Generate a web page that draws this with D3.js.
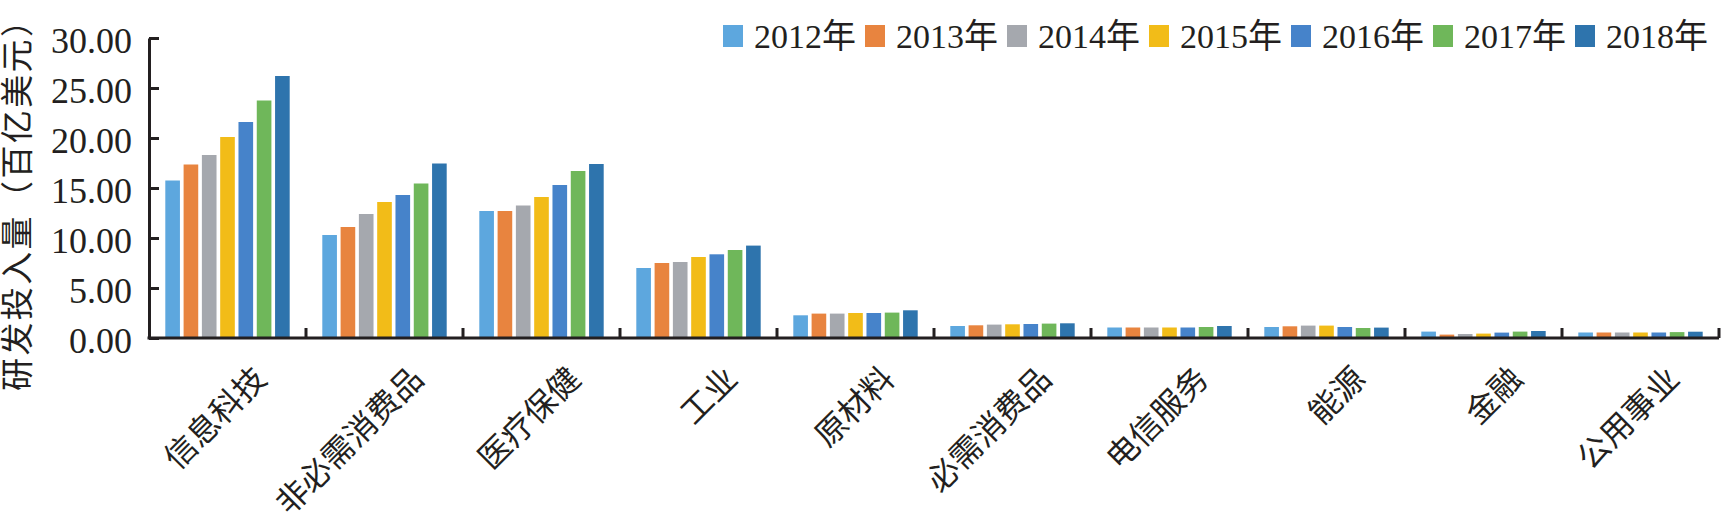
<!DOCTYPE html>
<html>
<head>
<meta charset="utf-8">
<script src="https://cdn.jsdelivr.net/npm/d3@7/dist/d3.min.js"></script>
<style>
  html, body { margin: 0; padding: 0; background: #fff; }
  svg { display: block; }
  text { font-family: "Liberation Serif", "Noto Sans CJK SC", serif; fill: #231f20; }
</style>
</head>
<body>
<svg id="chart" width="1721" height="527"></svg>
<script>
const categories = ["信息科技", "非必需消费品", "医疗保健", "工业", "原材料", "必需消费品", "电信服务", "能源", "金融", "公用事业"];
const years = ["2012年", "2013年", "2014年", "2015年", "2016年", "2017年", "2018年"];
const y2012 = [15.75, 10.3, 12.7, 7.0, 2.27, 1.2, 1.05, 1.1, 0.64, 0.55];
const y2013 = [17.35, 11.1, 12.7, 7.5, 2.44, 1.27, 1.05, 1.17, 0.34, 0.55];
const y2014 = [18.3, 12.4, 13.25, 7.6, 2.44, 1.34, 1.05, 1.24, 0.4, 0.55];
const y2015 = [20.1, 13.6, 14.1, 8.1, 2.5, 1.37, 1.05, 1.24, 0.44, 0.55];
const y2016 = [21.6, 14.3, 15.3, 8.37, 2.5, 1.4, 1.05, 1.1, 0.54, 0.55];
const y2017 = [23.75, 15.45, 16.7, 8.8, 2.54, 1.44, 1.1, 1.0, 0.64, 0.59];
const y2018 = [26.2, 17.45, 17.4, 9.24, 2.77, 1.47, 1.2, 1.04, 0.7, 0.63];
const yTicks = [0, 5, 10, 15, 20, 25, 30];
const yTitle = "研发投入量（百亿美元）";

const series = [y2012, y2013, y2014, y2015, y2016, y2017, y2018];
const colors = ["#5da7de", "#e8843f", "#a5a8ae", "#f2bc18", "#4683ca", "#6fb75a", "#2e74ad"];

const svg = d3.select("#chart");
const mLeft = 149, mRight = 1719, mTop = 38, mBottom = 338;

const x0 = d3.scaleBand().domain(categories).range([mLeft, mRight]).padding(0);
const x1 = d3.scaleBand().domain(years).range([16.3, x0.bandwidth() - 16.3]).paddingInner(0.2).paddingOuter(0);
const y = d3.scaleLinear().domain([0, 30]).range([mBottom, mTop]);
const color = d3.scaleOrdinal().domain(years).range(colors);

// bars
const groups = svg.append("g").selectAll("g")
  .data(categories)
  .join("g")
  .attr("transform", d => `translate(${x0(d)},0)`);

groups.selectAll("rect")
  .data((c, ci) => years.map((yr, si) => ({ yr, v: series[si][ci] })))
  .join("rect")
  .attr("x", d => x1(d.yr))
  .attr("width", x1.bandwidth())
  .attr("y", d => y(d.v))
  .attr("height", d => y(0) - y(d.v))
  .attr("fill", d => color(d.yr));

// y axis
const yAxis = svg.append("g")
  .attr("transform", `translate(${mLeft},0)`)
  .call(d3.axisLeft(y).tickValues(yTicks).tickSizeInner(-10).tickSizeOuter(0).tickPadding(17).tickFormat(d3.format(".2f")));
yAxis.select(".domain").attr("stroke", "#231f20").attr("stroke-width", 3);
yAxis.selectAll(".tick line").attr("stroke", "#231f20").attr("stroke-width", 3);
yAxis.selectAll(".tick text")
  .attr("font-size", 36)
  .attr("dy", "0.4em")
  .style("font-family", "'Liberation Serif', serif")
  .attr("fill", "#231f20");

// x axis
const xAxis = svg.append("g")
  .attr("transform", `translate(0,${mBottom})`)
  .call(d3.axisBottom(x0).tickSize(0).tickSizeOuter(0).tickFormat(""));
xAxis.select(".domain").attr("stroke", "#231f20").attr("stroke-width", 3).attr("d", `M${mLeft - 1.5},0H${mRight}`);
xAxis.selectAll(".tick").remove();

svg.append("g").selectAll("line")
  .data(categories)
  .join("line")
  .attr("x1", d => x0(d) + x0.bandwidth())
  .attr("x2", d => x0(d) + x0.bandwidth())
  .attr("y1", mBottom)
  .attr("y2", mBottom - 10)
  .attr("stroke", "#231f20")
  .attr("stroke-width", 3);

// x labels
svg.append("g").selectAll("text")
  .data(categories)
  .join("text")
  .attr("transform", d => `translate(${x0(d) + x0.bandwidth() / 2 + 33},${373}) rotate(-45)`)
  .attr("text-anchor", "end")
  .attr("dominant-baseline", "central")
  .attr("font-size", 32)
  .text(d => d);

// y title
svg.append("text")
  .attr("transform", `translate(18,391) rotate(-90)`)
  .attr("text-anchor", "start")
  .attr("dominant-baseline", "central")
  .attr("font-size", 33)
  .attr("letter-spacing", 2.4)
  .text(yTitle);

// legend
const legend = svg.append("g").attr("transform", "translate(723,0)");
const li = legend.selectAll("g")
  .data(years)
  .join("g")
  .attr("transform", (d, i) => `translate(${i * 142},0)`);
li.append("rect")
  .attr("x", 0).attr("y", 25)
  .attr("width", 20).attr("height", 22)
  .attr("fill", d => color(d));
li.append("text")
  .attr("x", 31).attr("y", 36)
  .attr("dy", "0.36em")
  .attr("font-size", 34)
  .text(d => d);
</script>
</body>
</html>
